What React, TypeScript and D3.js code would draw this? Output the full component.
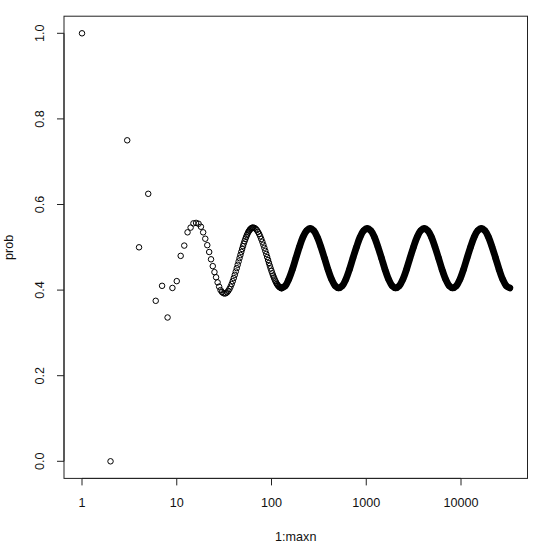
import React from "react";
import * as d3 from "d3";

// n = 1..31, each point read individually
const nSmall = [1,2,3,4,5,6,7,8,9,10,11,12,13,14,15,16,17,18,19,20,21,22,23,24,25,26,27,28,29,30,31];
const probSmall = [1.0,0.0,0.75,0.5,0.625,0.375,0.41,0.336,0.405,0.421,0.48,0.504,0.535,0.546,0.556,0.557,0.555,0.548,0.535,0.52,0.505,0.489,0.472,0.456,0.442,0.43,0.418,0.408,0.4,0.3955,0.393];

// n = 32..64 (every integer), 66..128 (every second)
const nMid = [32,33,34,35,36,37,38,39,40,41,42,43,44,45,46,47,48,49,50,51,52,53,54,55,56,57,58,59,60,61,62,63,64,
  66,68,70,72,74,76,78,80,82,84,86,88,90,92,94,96,98,100,102,104,106,108,110,112,114,116,118,120,122,124,126,128];
const probMid = [0.392,0.3928,0.3949,0.3983,0.4027,0.4081,0.4142,0.4209,0.4281,0.4357,0.4434,0.4513,0.4592,0.467,0.4747,0.4821,0.4893,0.4961,0.5026,0.5087,0.5143,0.5195,0.5242,0.5285,0.5323,0.5357,0.5385,0.5409,0.5427,0.5442,0.5452,0.5458,0.546,
  0.5453,0.5434,0.5403,0.5362,0.5313,0.5257,0.5195,0.513,0.506,0.4989,0.4917,0.4845,0.4773,0.4703,0.4635,0.4569,0.4506,0.4447,0.4392,0.434,0.4293,0.4249,0.421,0.4175,0.4144,0.4119,0.4097,0.408,0.4067,0.4057,0.4052,0.405];

// dense band n = 128..32768, readings along the solid curve
const nBand = [128,140,152,166,181,197,215,235,256,279,304,332,362,395,431,470,512,558,609,664,724,790,861,939,1024,1117,1218,1328,1448,1579,1722,1878,2048,2233,2435,2656,2896,3158,3444,3756,4096,4467,4871,5312,5793,6317,6889,7512,8192,8933,9742,10624,11585,12634,13777,15024,16384,17867,19484,21247,23170,25268,27554,30048,32768];
const probBand = [0.405,0.410,0.425,0.448,0.475,0.501,0.524,0.539,0.544,0.539,0.524,0.501,0.475,0.448,0.425,0.410,0.405,0.410,0.425,0.448,0.475,0.501,0.524,0.539,0.544,0.539,0.524,0.501,0.475,0.448,0.425,0.410,0.405,0.410,0.425,0.448,0.475,0.501,0.524,0.539,0.544,0.539,0.524,0.501,0.475,0.448,0.425,0.410,0.405,0.410,0.425,0.448,0.475,0.501,0.524,0.539,0.544,0.539,0.524,0.501,0.475,0.448,0.425,0.410,0.405];

const xTicks = [1, 10, 100, 1000, 10000];
const xTickLabels = ["1", "10", "100", "1000", "10000"];
const yTicks = [0, 0.2, 0.4, 0.6, 0.8, 1.0];
const yTickLabels = ["0.0", "0.2", "0.4", "0.6", "0.8", "1.0"];

export default function App() {
  const W = 540, H = 548;
  const maxn = 32768;
  const x = d3.scaleLog().domain([1, maxn]).range([82, 82 + Math.log10(maxn) * 94.75]);
  const y = d3.scaleLinear().domain([0, 1]).range([461.3, 33.3]);
  const boxL = 64, boxR = 527.5, boxT = 16.2, boxB = 478.4;

  const pts: [number, number][] = [];
  nSmall.forEach((n, i) => pts.push([n, probSmall[i]]));
  nMid.forEach((n, i) => pts.push([n, probMid[i]]));
  nBand.forEach((n, i) => pts.push([n, probBand[i]]));

  const bandPts: [number, number][] = nBand.map((n, i) => [n, probBand[i]]);
  const line = d3.line<[number, number]>()
    .x(d => x(d[0]))
    .y(d => y(d[1]))
    .curve(d3.curveCatmullRom);

  const font = "Liberation Sans, Arial, sans-serif";
  const txt = "#111";
  const fs = 12.6;

  return (
    <svg width={W} height={H} style={{ position: "absolute", left: 0, top: 0, background: "#fff" }}>
      <rect x={0} y={0} width={W} height={H} fill="#fff" />
      <path d={line(bandPts) || ""} fill="none" stroke="#000" strokeWidth={6.8} strokeLinecap="round" strokeLinejoin="round" />
      {pts.map((d, i) => (
        <circle key={i} cx={x(d[0])} cy={y(d[1])} r={2.75} fill="none" stroke="#000" strokeWidth={1} />
      ))}
      <rect x={boxL} y={boxT} width={boxR - boxL} height={boxB - boxT} fill="none" stroke="#222" strokeWidth={1} />
      {/* x axis */}
      <line x1={x(1)} x2={x(10000)} y1={boxB} y2={boxB} stroke="#222" />
      {xTicks.map((t, i) => (
        <g key={t}>
          <line x1={x(t)} x2={x(t)} y1={boxB} y2={boxB + 7} stroke="#222" />
          <text x={x(t)} y={503.5} textAnchor="middle" dominantBaseline="middle" fontFamily={font} fontSize={fs} fill={txt}>{xTickLabels[i]}</text>
        </g>
      ))}
      {/* y axis */}
      <line x1={boxL} x2={boxL} y1={y(0)} y2={y(1)} stroke="#222" />
      {yTicks.map((t, i) => (
        <g key={t}>
          <line x1={boxL - 7} x2={boxL} y1={y(t)} y2={y(t)} stroke="#222" />
          <text transform={`translate(${40.5},${y(t)}) rotate(-90)`} textAnchor="middle" dominantBaseline="middle" fontFamily={font} fontSize={fs} fill={txt}>{yTickLabels[i]}</text>
        </g>
      ))}
      <text x={(boxL + boxR) / 2} y={538} textAnchor="middle" dominantBaseline="middle" fontFamily={font} fontSize={fs} fill={txt}>1:maxn</text>
      <text transform={`translate(${10},${(boxT + boxB) / 2}) rotate(-90)`} textAnchor="middle" dominantBaseline="middle" fontFamily={font} fontSize={fs} fill={txt}>prob</text>
    </svg>
  );
}
